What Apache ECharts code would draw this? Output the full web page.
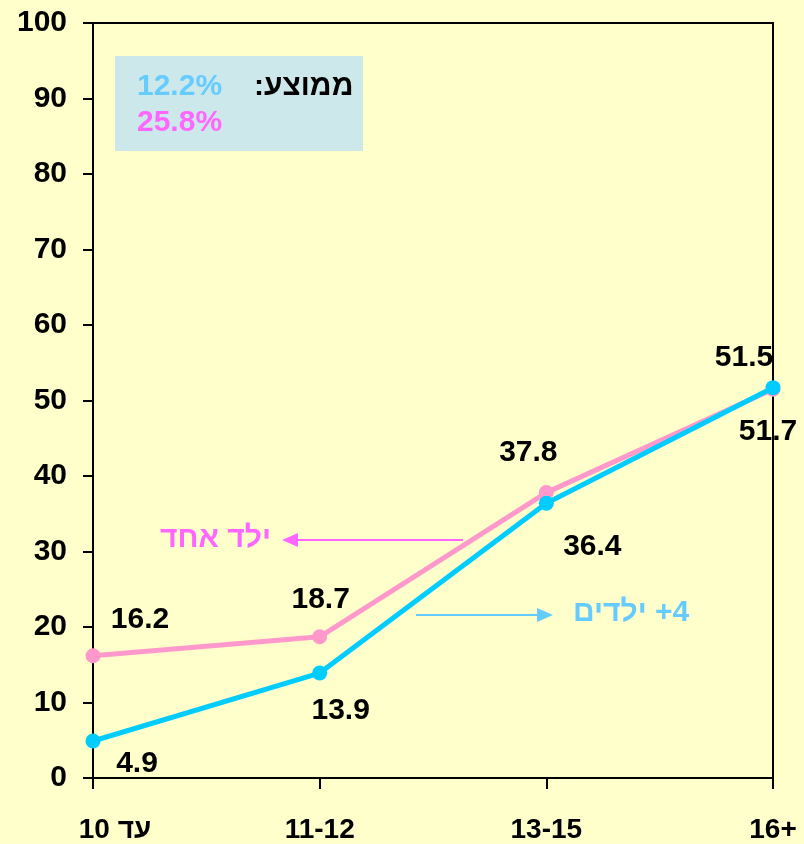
<!DOCTYPE html>
<html lang="he" style="height: 100%">
<head>
    <meta charset="utf-8">
</head>
<body style="height: 100%; margin: 0; background: #ffffcc">
    <div id="container" style="width: 804px; height: 844px"></div>

    <script type="text/javascript" src="https://cdn.jsdelivr.net/npm/echarts@6.0.0/dist/echarts.min.js"></script>
    <script type="text/javascript">
        // גילאים
        var categories = ['עד 10', '11-12', '13-15', '16+'];
        // ילד אחד
        var oneChild = [16.2, 18.7, 37.8, 51.5];
        // 4+ ילדים
        var fourPlus = [4.9, 13.9, 36.4, 51.7];
        var yTicks = { min: 0, max: 100, interval: 10 };
        var avgOne = '25.8%';
        var avgFour = '12.2%';

        // label offsets (px) for each point
        var pinkOffsets = [[47, -36], [1, -37], [-18, -40], [-29, -31]];
        var blueOffsets = [[44, 23], [21, 38], [46, 44], [-5, 44]];

        var PINK = '#ff99cc';
        var BLUE = '#00ccff';
        var FONT = '"Liberation Sans", Arial, sans-serif';
        var LRM = '\u200E';

        function withLabels(values, offsets) {
            return values.map(function (v, i) {
                return {
                    value: v,
                    label: { offset: offsets[i] }
                };
            });
        }

        var dom = document.getElementById('container');
        var myChart = echarts.init(dom, null, { renderer: 'canvas' });

        var labelStyle = {
            show: true,
            position: 'inside',
            color: '#000',
            fontFamily: FONT,
            fontWeight: 'bold',
            fontSize: 30
        };

        var option = {
            backgroundColor: '#ffffcc',
            animation: false,
            grid: {
                left: 93,
                right: 31,
                top: 23,
                bottom: 66,
                show: true,
                borderColor: '#000',
                borderWidth: 2
            },
            xAxis: {
                type: 'category',
                data: categories,
                boundaryGap: false,
                axisLine: { lineStyle: { color: '#000', width: 2 } },
                axisTick: { alignWithLabel: true, length: 11, lineStyle: { color: '#000', width: 2 } },
                axisLabel: {
                    color: '#000',
                    fontFamily: FONT,
                    fontWeight: 'bold',
                    fontSize: 28,
                    margin: 38,
                    formatter: function (v) {
                        return v === categories[0] ? '{a|' + v + '}' : v;
                    },
                    rich: {
                        a: {
                            padding: [0, 0, 0, 44],
                            color: '#000',
                            fontFamily: FONT,
                            fontWeight: 'bold',
                            fontSize: 28
                        }
                    }
                },
                splitLine: { show: false }
            },
            yAxis: {
                type: 'value',
                min: yTicks.min,
                max: yTicks.max,
                interval: yTicks.interval,
                axisLine: { show: true, lineStyle: { color: '#000', width: 2 } },
                axisTick: { show: true, length: 10, lineStyle: { color: '#000', width: 2 } },
                axisLabel: {
                    color: '#000',
                    fontFamily: FONT,
                    fontWeight: 'bold',
                    fontSize: 30,
                    margin: 26
                },
                splitLine: { show: false }
            },
            series: [
                {
                    name: 'ילד אחד',
                    type: 'line',
                    data: withLabels(oneChild, pinkOffsets),
                    symbol: 'circle',
                    symbolSize: 15,
                    itemStyle: { color: PINK },
                    lineStyle: { color: PINK, width: 5 },
                    label: labelStyle,
                    z: 2
                },
                {
                    name: '4+ ילדים',
                    type: 'line',
                    data: withLabels(fourPlus, blueOffsets),
                    symbol: 'circle',
                    symbolSize: 15,
                    itemStyle: { color: BLUE },
                    lineStyle: { color: BLUE, width: 5 },
                    label: labelStyle,
                    z: 3
                }
            ],
            graphic: [
                // average box
                {
                    type: 'rect',
                    shape: { x: 115, y: 56, width: 248, height: 95 },
                    style: { fill: '#cde8ea' },
                    z: 10
                },
                {
                    type: 'text',
                    left: 137, top: 72,
                    style: { text: avgFour, fill: '#66ccff', font: 'bold 30px ' + FONT },
                    z: 11
                },
                {
                    type: 'text',
                    left: 137, top: 108,
                    style: { text: avgOne, fill: '#ff66ff', font: 'bold 30px ' + FONT },
                    z: 11
                },
                {
                    type: 'text',
                    left: 254, top: 72,
                    style: { text: ':ממוצע', fill: '#000', font: 'bold 30px ' + FONT },
                    z: 11
                },
                // annotation: one child
                {
                    type: 'text',
                    left: 160, top: 524,
                    style: { text: 'ילד אחד', fill: '#ff66ff', font: 'bold 30px ' + FONT },
                    z: 11
                },
                {
                    type: 'line',
                    shape: { x1: 463, y1: 540, x2: 296, y2: 540 },
                    style: { stroke: '#ff66ff', lineWidth: 2 },
                    z: 11
                },
                {
                    type: 'polygon',
                    shape: { points: [[282, 540], [298, 533], [298, 547]] },
                    style: { fill: '#ff66ff' },
                    z: 11
                },
                // annotation: 4+ children
                {
                    type: 'line',
                    shape: { x1: 416, y1: 615, x2: 540, y2: 615 },
                    style: { stroke: '#66ccff', lineWidth: 2 },
                    z: 11
                },
                {
                    type: 'polygon',
                    shape: { points: [[553, 615], [537, 608], [537, 622]] },
                    style: { fill: '#66ccff' },
                    z: 11
                },
                {
                    type: 'text',
                    left: 573, top: 598,
                    style: { text: 'ילדים' + LRM + ' +4', fill: '#66ccff', font: 'bold 30px ' + FONT },
                    z: 11
                }
            ]
        };

        myChart.setOption(option);
        window.addEventListener('resize', myChart.resize);
    </script>
</body>
</html>
